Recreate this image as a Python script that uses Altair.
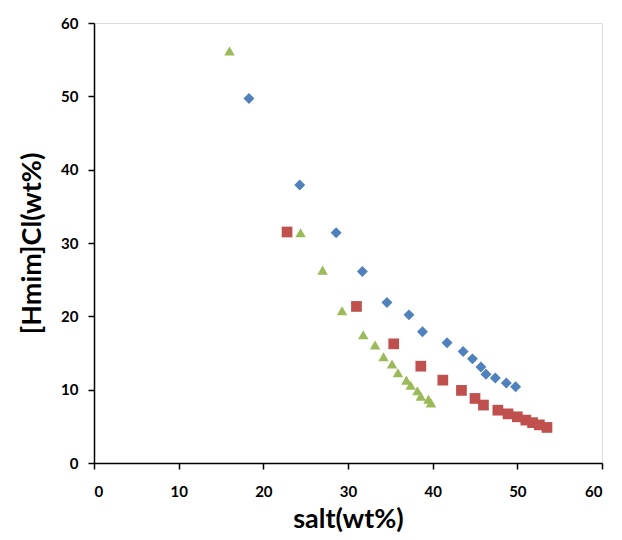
import altair as alt
import pandas as pd

# Binodal data: [Hmim]Cl (wt%) against salt (wt%) for three salts
blue_salt = [18.3, 24.3, 28.6, 31.7, 34.6, 37.2, 38.8, 41.7, 43.6, 44.7, 45.7, 46.3, 47.4, 48.7, 49.8]
blue_il = [49.7, 37.9, 31.4, 26.1, 21.9, 20.2, 17.9, 16.4, 15.2, 14.2, 13.1, 12.1, 11.6, 10.9, 10.4]

red_salt = [22.8, 31.0, 35.4, 38.6, 41.2, 43.4, 45.0, 46.0, 47.7, 48.9, 50.0, 51.0, 51.8, 52.6, 53.5]
red_il = [31.5, 21.35, 16.25, 13.2, 11.3, 9.9, 8.8, 7.9, 7.2, 6.7, 6.3, 5.85, 5.5, 5.2, 4.85]

green_salt = [16.0, 24.4, 27.0, 29.3, 31.8, 33.2, 34.2, 35.2, 35.9, 36.9, 37.4, 38.2, 38.6, 39.5, 39.8]
green_il = [56.2, 31.4, 26.3, 20.75, 17.5, 16.1, 14.5, 13.5, 12.3, 11.3, 10.6, 9.85, 9.1, 8.7, 8.2]

series_names = ["A", "B", "C"]
series_shapes = ["diamond", "square", "triangle-up"]
series_colors = ["#4F81BD", "#C0504D", "#9BBB59"]
series_sizes = [120, 110, 170]

frames = []
for name, xs, ys in zip(series_names, [blue_salt, red_salt, green_salt], [blue_il, red_il, green_il]):
    frames.append(pd.DataFrame({"salt": xs, "il": ys, "series": name}))
df = pd.concat(frames, ignore_index=True)

FONT = "Lato"

x_axis = alt.Axis(
    values=[0, 10, 20, 30, 40, 50, 60], grid=False, domainColor="black", domainWidth=1.5,
    tickColor="black", tickSize=6, tickWidth=1.5, labelFont=FONT, labelFontSize=15,
    labelFontWeight="bold", labelColor="black", labelPadding=15,
    title="salt(wt%)", titleFont=FONT, titleFontSize=27, titleFontWeight="bold",
    titleColor="black", titlePadding=7,
)
y_axis = alt.Axis(
    values=[0, 10, 20, 30, 40, 50, 60], grid=False, domainColor="black", domainWidth=1.5,
    tickColor="black", tickSize=6, tickWidth=1.5, labelFont=FONT, labelFontSize=15,
    labelFontWeight="bold", labelColor="black", labelPadding=10,
    title="[Hmim]Cl(wt%)", titleFont=FONT, titleFontSize=27, titleFontWeight="bold",
    titleColor="black", titlePadding=14,
)

chart = alt.Chart(df).mark_point(filled=True, opacity=1, strokeWidth=0).encode(
    x=alt.X("salt:Q", scale=alt.Scale(domain=[0, 60], nice=False), axis=x_axis),
    y=alt.Y("il:Q", scale=alt.Scale(domain=[0, 60], nice=False), axis=y_axis),
    shape=alt.Shape("series:N", scale=alt.Scale(domain=series_names, range=series_shapes), legend=None),
    color=alt.Color("series:N", scale=alt.Scale(domain=series_names, range=series_colors), legend=None),
    size=alt.Size("series:N", scale=alt.Scale(domain=series_names, range=series_sizes), legend=None),
).properties(
    width=508, height=440,
    autosize=alt.AutoSizeParams(type="none"),
    padding={"left": 94, "top": 23, "right": 20, "bottom": 77},
).configure_view(stroke=None).configure(background="white")

chart.save("out.html", embed_options={"renderer": "svg", "actions": False})
